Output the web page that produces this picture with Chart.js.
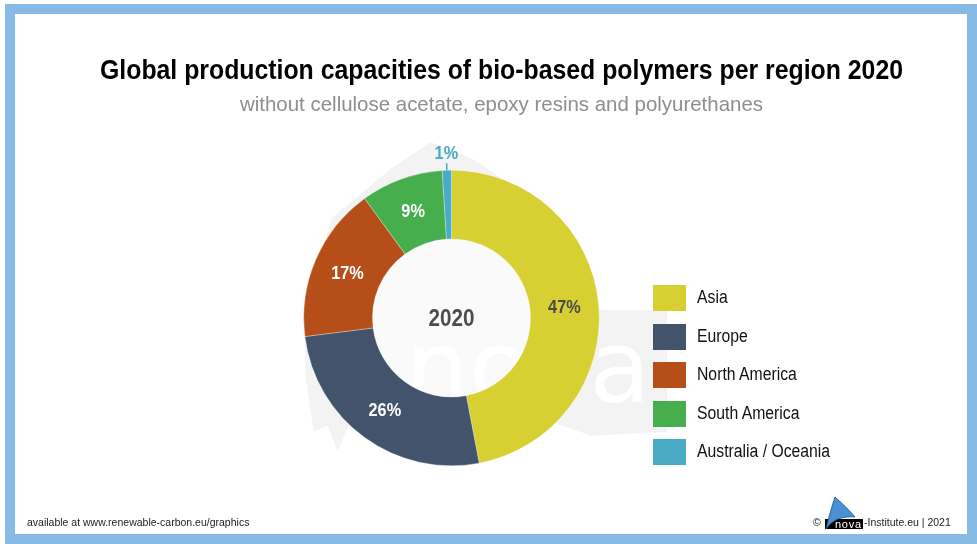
<!DOCTYPE html>
<html>
<head>
<meta charset="utf-8">
<title>Bio-based polymers per region 2020</title>
<script src="https://cdn.jsdelivr.net/npm/chart.js@4.4.1/dist/chart.umd.min.js"></script>
<style>
  html, body { margin: 0; padding: 0; background: #fff; }
  body {
    width: 977px; height: 544px; position: relative; overflow: hidden;
    font-family: "Liberation Sans", Arial, sans-serif;
  }
  #frame {
    position: absolute; left: 5px; top: 4px; width: 952px; height: 520px;
    border: 10px solid #88bae6;
  }
  #chart { position: absolute; left: 0; top: 0; }
  .head { position: absolute; white-space: nowrap; transform-origin: 0 0; margin: 0; }
  #title { top: 55px; font-size: 27px; font-weight: bold; color: #000; }
  #subtitle { top: 92px; font-size: 21px; font-weight: normal; color: #8e8e8e; }
  #legend { position: absolute; left: 653px; top: 285px; }
  .item { height: 38.5px; position: relative; }
  .box { position: absolute; left: 0; top: 0; width: 33px; height: 26px; }
  .lbl {
    position: absolute; left: 44px; top: 2px; font-size: 18px; color: #111;
    white-space: nowrap; transform: scaleX(0.875); transform-origin: 0 0;
  }
  .foot { position: absolute; top: 516px; font-size: 10.5px; color: #222; white-space: nowrap; }
  #footL { left: 27px; }
  #copy { left: 813px; }
  #footR { left: 864px; }
  #logo { position: absolute; left: 823px; top: 490px; }
</style>
</head>
<body>
<div id="frame"></div>
<canvas id="chart" width="977" height="544"></canvas>
<div class="head" id="title">Global production capacities of bio-based polymers per region 2020</div>
<div class="head" id="subtitle">without cellulose acetate, epoxy resins and polyurethanes</div>
<div id="legend"></div>
<div class="foot" id="footL">available at www.renewable-carbon.eu/graphics</div>
<div class="foot" id="copy">&copy;</div>
<svg id="logo" width="42" height="42" viewBox="0 0 42 42">
  <rect x="2" y="29" width="38" height="10" fill="#000"/>
  <text x="12" y="37.5" fill="#fff" font-family="Liberation Sans, Arial, sans-serif" font-size="11" textLength="26">nova</text>
  <path d="M3 39 C6 26 9 16 12 7 C20 14 27 21 32 27 C20 26 10 29 3 39 Z" fill="#4a90d2" stroke="#1d4f8a" stroke-width="0.8"/>
</svg>
<div class="foot" id="footR">-Institute.eu | 2021</div>

<script>
const regions = ["Asia", "Europe", "North America", "South America", "Australia / Oceania"];
const shares = [47, 26, 17, 9, 1];
const colors = ["#d8cf33", "#43536b", "#b54e18", "#47ae4e", "#4aabc6"];
const labelColors = ["#4a4a4a", "#ffffff", "#ffffff", "#ffffff", "#4aabc6"];
const centerLabel = "2020";

// narrow headline type: squeeze each heading into its span of the page
function fitHeading(id, left, width) {
  const el = document.getElementById(id);
  const natural = el.getBoundingClientRect().width;
  el.style.left = left + "px";
  el.style.transform = `scaleX(${width / natural})`;
}
fitHeading("title", 100, 803);
fitHeading("subtitle", 240, 523);

// legend rows
const legend = document.getElementById("legend");
regions.forEach((name, i) => {
  const row = document.createElement("div");
  row.className = "item";
  row.innerHTML = `<div class="box" style="background:${colors[i]}"></div><div class="lbl">${name}</div>`;
  legend.appendChild(row);
});

function narrowText(ctx, text, x, y, sx) {
  ctx.save();
  ctx.translate(x, y);
  ctx.scale(sx, 1);
  ctx.fillText(text, 0, 0);
  ctx.restore();
}

// faint nova logo behind the ring, sized from the ring itself
const watermark = {
  id: "watermark",
  beforeDatasetsDraw(chart) {
    const arc = chart.getDatasetMeta(0).data[0];
    if (!arc) return;
    const { x, y, outerRadius, innerRadius } = arc.getProps(["x", "y", "outerRadius", "innerRadius"], true);
    const s = outerRadius / 148;
    const pts = [[-21, -176], [20, -160], [80, -120], [150, -8], [216, -8], [216, 114], [140, 118],
                 [60, 90], [-100, 100], [-114, 134], [-124, 108], [-138, 114], [-146, 60],
                 [-148, 0], [-120, -100], [-60, -150]];
    const ctx = chart.ctx;
    ctx.save();
    ctx.fillStyle = "#f3f3f3";
    ctx.beginPath();
    pts.forEach(([px, py], i) => {
      const X = x + px * s, Y = y + py * s;
      if (i === 0) ctx.moveTo(X, Y); else ctx.lineTo(X, Y);
    });
    ctx.closePath();
    ctx.fill();
    ctx.fillStyle = "#fafafa";
    ctx.beginPath();
    ctx.arc(x, y, innerRadius, 0, Math.PI * 2);
    ctx.fill();
    ctx.fillStyle = "#ffffff";
    ctx.font = `${Math.round(100 * s)}px "DejaVu Sans", sans-serif`;
    ctx.textBaseline = "alphabetic";
    ctx.textAlign = "left";
    ctx.fillText("nova", x - 46 * s, y + 84 * s);
    ctx.restore();
  }
};

// percentage labels on the slices and the year in the hole
const sliceLabels = {
  id: "sliceLabels",
  afterDatasetsDraw(chart) {
    const ctx = chart.ctx;
    const meta = chart.getDatasetMeta(0);
    ctx.save();
    ctx.textAlign = "center";
    ctx.textBaseline = "middle";
    meta.data.forEach((arc, i) => {
      const { x, y, startAngle, endAngle, innerRadius, outerRadius } =
        arc.getProps(["x", "y", "startAngle", "endAngle", "innerRadius", "outerRadius"], true);
      const mid = (startAngle + endAngle) / 2;
      const cos = Math.cos(mid), sin = Math.sin(mid);
      ctx.fillStyle = labelColors[i];
      ctx.font = 'bold 17.5px "Liberation Sans", Arial, sans-serif';
      if (shares[i] >= 3) {
        const r = (innerRadius + outerRadius) / 2;
        narrowText(ctx, shares[i] + "%", x + cos * r, y + sin * r + 1, 0.93);
      } else {
        ctx.strokeStyle = labelColors[i];
        ctx.lineWidth = 1.5;
        ctx.beginPath();
        ctx.moveTo(x + cos * outerRadius, y + sin * outerRadius);
        ctx.lineTo(x + cos * (outerRadius + 7), y + sin * (outerRadius + 7));
        ctx.stroke();
        narrowText(ctx, shares[i] + "%", x + cos * (outerRadius + 16), y + sin * (outerRadius + 16), 0.93);
      }
      if (i === 0) {
        ctx.fillStyle = "#4d4d4d";
        ctx.font = 'bold 24px "Liberation Sans", Arial, sans-serif';
        narrowText(ctx, centerLabel, x, y + 1, 0.86);
      }
    });
    ctx.restore();
  }
};

new Chart(document.getElementById("chart"), {
  type: "doughnut",
  data: {
    labels: regions,
    datasets: [{
      data: shares,
      backgroundColor: colors,
      borderColor: "rgba(255,255,255,0.6)",
      borderWidth: 0.5
    }]
  },
  options: {
    responsive: false,
    animation: false,
    cutout: "53.5%",
    layout: { padding: { left: 303, right: 377, top: 170, bottom: 78 } },
    plugins: {
      legend: { display: false },
      tooltip: { enabled: false }
    }
  },
  plugins: [watermark, sliceLabels]
});
</script>
</body>
</html>
